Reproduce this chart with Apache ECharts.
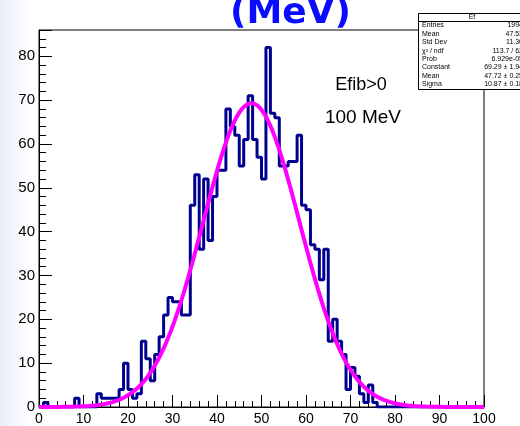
<!DOCTYPE html>
<html>
<head>
<meta charset="utf-8">
<script src="https://cdn.jsdelivr.net/npm/echarts@6/dist/echarts.min.js"></script>
<style>
  html, body { margin: 0; padding: 0; }
  body {
    width: 520px; height: 426px; overflow: hidden;
    background: linear-gradient(to right, #e6eef8 0px, #f1f6fb 14px, #ffffff 30px);
  }
  #chart { width: 520px; height: 426px; }
</style>
</head>
<body>
<div id="chart"></div>
<script>
// Histogram "Ef": 100 bins of width 1 MeV from 0 to 100
const binLow = 0;
const binWidth = 1;
const binCounts = [
  0, 1, 0, 0, 0, 0, 0, 0, 2, 0,
  0, 0, 0, 3, 2, 2, 2, 2, 4, 10,
  4, 2, 3, 15, 11, 6, 12, 16, 21, 25,
  24, 24, 21, 21, 46, 53, 36, 52, 38, 48,
  54, 54, 68, 64, 62, 55, 61, 71, 61, 57,
  52, 82, 67, 66, 55, 55, 56, 56, 62, 46,
  45, 37, 36, 29, 36, 15, 20, 15, 12, 4,
  9, 7, 3, 1, 5, 1, 0, 0, 0, 0,
  0, 0, 0, 0, 0, 0, 0, 0, 0, 0,
  0, 0, 0, 0, 0, 0, 0, 0, 0, 0
];

// Gaussian fit parameters
const fitConstant = 69.29;
const fitMean = 47.72;
const fitSigma = 10.87;

// Axis tick labels
const xTickLabels = ['0', '10', '20', '30', '40', '50', '60', '70', '80', '90', '100'];
const yTickLabels = ['0', '10', '20', '30', '40', '50', '60', '70', '80'];

// Statistics box
const statTitle = 'Ef';
const statNames = ['Entries', 'Mean', 'Std Dev', 'χ² / ndf', 'Prob', 'Constant', 'Mean', 'Sigma'];
const statValues = ['1994', '47.53', '11.30', '113.7 / 62', '6.929e-05', '69.29 ± 1.94', '47.72 ± 0.25', '10.87 ± 0.18'];

// Annotations
const plotTitle = '(MeV)';
const noteLines = ['Efib>0', '100 MeV'];

// Step outline: one point per lower bin edge, closed at the last upper edge
const histPoints = binCounts.map((c, i) => [binLow + i * binWidth, c]);
histPoints.push([binLow + binCounts.length * binWidth, binCounts[binCounts.length - 1]]);

// Fitted gaussian sampled across the axis range
const fitPoints = [];
for (let x = 0; x <= 100.0001; x += 0.25) {
  const z = (x - fitMean) / fitSigma;
  fitPoints.push([x, fitConstant * Math.exp(-0.5 * z * z)]);
}

const FONT = "'Liberation Sans', Arial, sans-serif";
const boxLeft = 418, boxTop = 13, boxRight = 526, boxBottom = 89;
const rowTop = 25.5, rowStep = 8.4;

const graphics = [
  { type: 'text', x: 230, y: 14, z: 10,
    style: { text: plotTitle, font: "bold 36px 'DejaVu Sans'", fill: '#0b0bff', align: 'left', verticalAlign: 'middle' } },
  { type: 'text', x: 361, y: 85, z: 10,
    style: { text: noteLines[0], font: '18px ' + FONT, fill: '#000', align: 'center', verticalAlign: 'middle' } },
  { type: 'text', x: 363, y: 118, z: 10,
    style: { text: noteLines[1], font: '19px ' + FONT, fill: '#000', align: 'center', verticalAlign: 'middle' } },
  { type: 'rect', z: 20,
    shape: { x: boxLeft + 0.5, y: boxTop + 0.5, width: boxRight - boxLeft, height: boxBottom - boxTop },
    style: { fill: '#fff', stroke: '#000', lineWidth: 1 } },
  { type: 'line', z: 21,
    shape: { x1: boxLeft, y1: 21.5, x2: boxRight, y2: 21.5 },
    style: { stroke: '#000', lineWidth: 1 } },
  { type: 'text', x: 472, y: 17.5, z: 21,
    style: { text: statTitle, font: '7px ' + FONT, fill: '#000', align: 'center', verticalAlign: 'middle' } }
];
statNames.forEach((name, i) => {
  graphics.push({ type: 'text', x: 422, y: rowTop + i * rowStep, z: 21,
    style: { text: name, font: '7px ' + FONT, fill: '#000', align: 'left', verticalAlign: 'middle' } });
  graphics.push({ type: 'text', x: 523, y: rowTop + i * rowStep, z: 21,
    style: { text: statValues[i], font: '7px ' + FONT, fill: '#000', align: 'right', verticalAlign: 'middle' } });
});

const chart = echarts.init(document.getElementById('chart'), null, { renderer: 'canvas' });
chart.setOption({
  backgroundColor: 'transparent',
  animation: false,
  grid: {
    left: 39, top: 30, right: 36, bottom: 18,
    show: true, borderColor: '#000', borderWidth: 1, backgroundColor: '#fff'
  },
  xAxis: {
    type: 'value', min: 0, max: 100, interval: 10,
    axisLine: { show: true, lineStyle: { color: '#000', width: 1 } },
    axisTick: { show: true, inside: true, length: 12, lineStyle: { color: '#000', width: 1 } },
    minorTick: { show: true, splitNumber: 5, length: 6, lineStyle: { color: '#000', width: 1 } },
    axisLabel: {
      color: '#000', fontFamily: FONT, fontSize: 14, margin: 5,
      formatter: v => xTickLabels[Math.round(v / 10)] ?? ''
    },
    splitLine: { show: false }
  },
  yAxis: [
    {
      type: 'value', min: 0, max: 86, interval: 10,
      axisLine: { show: true, lineStyle: { color: '#000', width: 1 } },
      axisTick: { show: true, inside: true, length: 13, lineStyle: { color: '#000', width: 1 } },
      axisLabel: {
        color: '#000', fontFamily: FONT, fontSize: 15, margin: 4,
        formatter: v => (v % 10 === 0 ? (yTickLabels[v / 10] ?? '') : '')
      },
      splitLine: { show: false }
    },
    {
      type: 'value', min: 0, max: 86, interval: 2, position: 'left', offset: 0,
      axisLine: { show: false },
      axisTick: { show: true, inside: true, length: 7, lineStyle: { color: '#000', width: 1 } },
      axisLabel: { show: false },
      splitLine: { show: false }
    }
  ],
  series: [
    {
      name: 'Ef', type: 'line', step: 'end', data: histPoints,
      xAxisIndex: 0, yAxisIndex: 0, symbol: 'none', z: 2,
      lineStyle: { color: '#00008f', width: 3 }
    },
    {
      name: 'gaus', type: 'line', data: fitPoints,
      xAxisIndex: 0, yAxisIndex: 0, symbol: 'none', smooth: false, z: 3,
      lineStyle: { color: '#ff00ff', width: 4 }
    }
  ],
  graphic: graphics
});
</script>
</body>
</html>
